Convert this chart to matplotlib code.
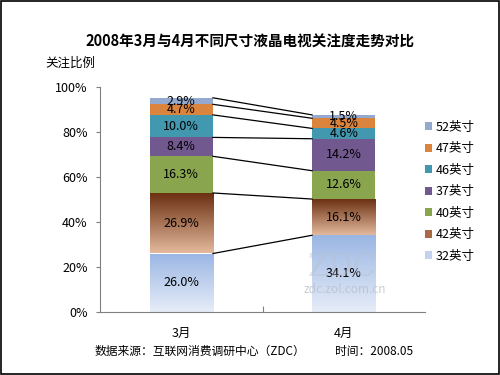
import numpy as np
import matplotlib
matplotlib.use("Agg")
import matplotlib.pyplot as plt
from matplotlib.colors import LinearSegmentedColormap
from matplotlib.patches import Patch

plt.rcParams['font.family'] = ['Noto Sans CJK SC', 'DejaVu Sans']

# data (bottom to top)
months = ["3月", "4月"]
sizes = ["32英寸", "42英寸", "40英寸", "37英寸", "46英寸", "47英寸", "52英寸"]
march = [26.0, 26.9, 16.3, 8.4, 10.0, 4.7, 2.9]
april = [34.1, 16.1, 12.6, 14.2, 4.6, 4.5, 1.5]
yticks = [0, 20, 40, 60, 80, 100]

# colours; gradient segments get (top, bottom)
colors = {
    "32英寸": ("#9bb6e4", "#e6edf8"),
    "42英寸": ("#6a2e10", "#e3b89c"),
    "40英寸": "#89a54e",
    "37英寸": "#71588f",
    "46英寸": "#4198af",
    "47英寸": "#db843d",
    "52英寸": "#93a9cf",
}

fig = plt.figure(figsize=(5, 3.75), dpi=100)
fig.patches.append(plt.Rectangle((0.002, 0.003), 0.996, 0.994, transform=fig.transFigure,
                                 fill=False, edgecolor="black", linewidth=1.2))
ax = fig.add_axes([0.2, 0.168, 0.65, 0.6])

x = np.arange(len(months))
width = 0.39
values = np.array([march, april])
bottoms = np.zeros(len(months))

for i, name in enumerate(sizes):
    col = colors[name]
    vals = values[:, i]
    if isinstance(col, tuple):
        bars = ax.bar(x, vals, width, bottom=bottoms, color="none", edgecolor="none")
        cmap = LinearSegmentedColormap.from_list(name, [col[1], col[0]])
        for b in bars:
            x0, y0 = b.get_x(), b.get_y()
            w, h = b.get_width(), b.get_height()
            grad = np.linspace(0, 1, 100).reshape(-1, 1)
            im = ax.imshow(grad, extent=[x0, x0 + w, y0, y0 + h], origin="lower",
                           cmap=cmap, aspect="auto", zorder=1)
            im.set_clip_path(b)
    else:
        ax.bar(x, vals, width, bottom=bottoms, color=col, edgecolor="none", zorder=1)
    for xi, v, b0 in zip(x, vals, bottoms):
        ax.text(xi, b0 + v / 2, f"{v:.1f}%", ha="center", va="center", fontsize=9,
                color="black", zorder=3)
    tops = bottoms + vals
    ax.plot([x[0] + width / 2, x[1] - width / 2], [tops[0], tops[1]], color="black",
            linewidth=0.9, zorder=2)
    bottoms = tops

# legend
handles = []
for name in sizes[::-1]:
    col = colors[name]
    fc = col[0] if isinstance(col, tuple) else col
    if name == "32英寸":
        fc = "#c3d3ef"
    if name == "42英寸":
        fc = "#a86a45"
    handles.append(Patch(facecolor=fc, edgecolor="none", label=name))
ax.legend(handles=handles, loc="center left", bbox_to_anchor=(0.965, 0.535), frameon=False,
          fontsize=9, handlelength=0.6, handleheight=0.6, handletextpad=0.3, labelspacing=0.68)

ax.set_xlim(-0.5, 1.5)
ax.set_ylim(0, 100)
ax.set_yticks(yticks)
ax.set_yticklabels([f"{t}%" for t in yticks], fontsize=9)
ax.set_xticks([0.5])
ax.set_xticklabels([""])
ax.tick_params(axis="x", length=4, color="#808080", direction="in")
ax.tick_params(axis="y", length=3, color="#808080", pad=6)
for xi, m in zip(x, months):
    ax.text(xi, -6.5, m, ha="center", va="top", fontsize=9)
for s in ["top", "right"]:
    ax.spines[s].set_visible(False)
ax.spines["left"].set_color("#808080")
ax.spines["bottom"].set_color("#808080")

# watermark (drawn over the bars, faint)
fig.text(0.684, 0.288, "ZDC", fontsize=22, color="#b8c2d0", alpha=0.45, family="DejaVu Serif",
         ha="center", va="center", zorder=5)
fig.text(0.69, 0.228, "zdc.zol.com.cn", fontsize=8.5, color="#b8c0ca", alpha=0.8,
         ha="center", va="center", zorder=5)

fig.text(0.5, 0.888, "2008年3月与4月不同尺寸液晶电视关注度走势对比", ha="center", va="center",
         fontsize=10.5, fontweight="bold")
fig.text(0.09, 0.832, "关注比例", ha="left", va="center", fontsize=9)
fig.text(0.19, 0.062, "数据来源：互联网消费调研中心（ZDC）", ha="left", va="center", fontsize=8.5)
fig.text(0.67, 0.062, "时间：2008.05", ha="left", va="center", fontsize=8.5)

fig.savefig("out.png", dpi=100)
